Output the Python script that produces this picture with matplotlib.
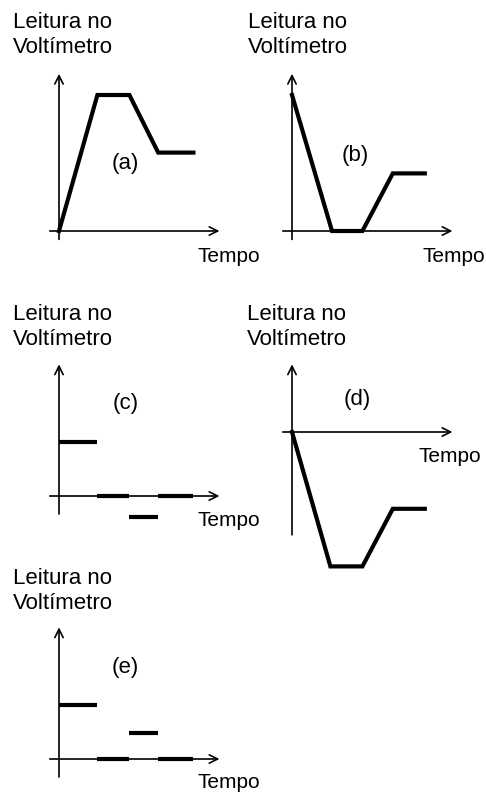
import matplotlib
matplotlib.use('Agg')
import matplotlib.pyplot as plt

plt.rcParams['font.family'] = ['Liberation Sans', 'DejaVu Sans']

W, H = 486, 792
U = 32.0  # pixels per data unit

# panel data (time, voltmeter reading)
t_a = [0, 1.2, 2.2, 3.1, 4.2]
v_a = [0, 4.25, 4.25, 2.45, 2.45]

t_b = [0, 1.25, 2.2, 3.15, 4.15]
v_b = [4.25, 0, 0, 1.8, 1.8]

seg_c = [(0, 1.2), (1.2, 2.2), (2.2, 3.1), (3.1, 4.2)]
v_c = [1.7, 0, -0.65, 0]

t_d = [0, 1.2, 2.2, 3.15, 4.15]
v_d = [0, -4.2, -4.2, -2.4, -2.4]

seg_e = [(0, 1.2), (1.2, 2.2), (2.2, 3.1), (3.1, 4.2)]
v_e = [1.7, 0, 0.8, 0]

labels = ['(a)', '(b)', '(c)', '(d)', '(e)']
ylabel = 'Leitura no\nVoltímetro'
xlabel = 'Tempo'

fig = plt.figure(figsize=(W / 100, H / 100), dpi=100)


def panel(ox, oy, ylo, yhi):
    # axes whose data origin sits at pixel (ox, oy), 1 unit = U px
    xlo, xhi = -1.0, 6.0
    left = (ox + xlo * U) / W
    bottom = 1 - (oy - ylo * U) / H
    ax = fig.add_axes([left, bottom, (xhi - xlo) * U / W, (yhi - ylo) * U / H])
    ax.set_xlim(xlo, xhi)
    ax.set_ylim(ylo, yhi)
    ax.axis('off')
    return ax


def draw_axes(ax, ytop, ybot):
    arr = dict(arrowstyle='->', lw=1.2, color='black', mutation_scale=15)
    ax.annotate('', xy=(5.1, 0), xytext=(-0.375, 0), arrowprops=arr)
    ax.annotate('', xy=(0, ytop), xytext=(0, ybot), arrowprops=arr)


def px(x, y):
    return x / W, 1 - y / H


lw = 3.0

# (a)
ax = panel(59, 231, -1, 5.5)
draw_axes(ax, 5.0, -0.35)
ax.plot(t_a, v_a, color='black', lw=lw, solid_joinstyle='miter')

# (b)
ax = panel(292, 231, -1, 5.5)
draw_axes(ax, 5.0, -0.35)
ax.plot(t_b, v_b, color='black', lw=lw, solid_joinstyle='miter')

# (c)
ax = panel(59, 496, -1, 4.5)
draw_axes(ax, 4.2, -0.65)
for (t0, t1), v in zip(seg_c, v_c):
    ax.plot([t0, t1], [v, v], color='black', lw=lw, solid_capstyle='butt')

# (d)
ax = panel(292, 432, -4.6, 2.5)
draw_axes(ax, 2.2, -3.3)
ax.plot(t_d, v_d, color='black', lw=lw, solid_joinstyle='miter')

# (e)
ax = panel(59, 759, -1, 4.5)
draw_axes(ax, 4.2, -0.65)
for (t0, t1), v in zip(seg_e, v_e):
    ax.plot([t0, t1], [v, v], color='black', lw=lw, solid_capstyle='butt')

# texts
ylab_pos = [(13, 35), (248, 35), (13, 327), (247, 327), (13, 591)]
xlab_pos = [(197, 257), (422, 257), (197, 520), (418, 456), (197, 782)]
tag_pos = [(125, 163), (355, 155), (126, 403), (357, 400), (125, 668)]

for (x, y) in ylab_pos:
    fig.text(*px(x, y), ylabel, fontsize=16, ha='left', va='center',
             linespacing=1.2)
for (x, y) in xlab_pos:
    fig.text(*px(x, y), xlabel, fontsize=15, ha='left', va='center')
for lab, (x, y) in zip(labels, tag_pos):
    fig.text(*px(x, y), lab, fontsize=16, ha='center', va='center')

fig.savefig('out.png', dpi=100)
